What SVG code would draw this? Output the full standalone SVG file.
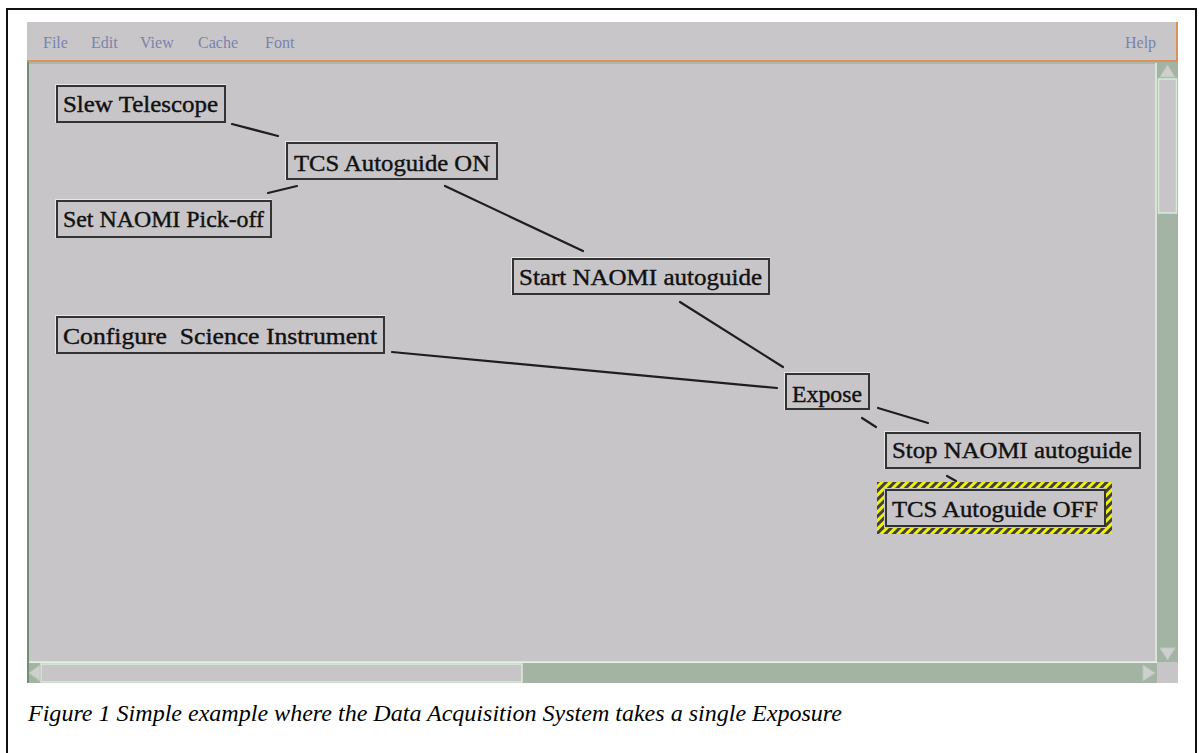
<svg xmlns="http://www.w3.org/2000/svg" width="1199" height="753" viewBox="0 0 1199 753">
<style>
.frame{stroke:#111;stroke-width:2;fill:none}
.menu{font-family:"Liberation Serif",serif;font-size:16px;fill:#7884aa}
.box{fill:#c8c5c9;stroke:#333;stroke-width:2}
.hi{fill:none;stroke:#f2f2f2;stroke-width:1.5}
.lbl{font-family:"Liberation Serif",serif;font-size:23px;fill:#111;stroke:#111;stroke-width:0.4;white-space:pre}
.conn line{stroke:#1e1e1e;stroke-width:2.2;stroke-linecap:round}
.cap{font-family:"Liberation Serif",serif;font-style:italic;font-size:24px;fill:#000}
.sb{fill:#a4b4a4}
.th{fill:#c8c5c9;stroke:#d8ecd8;stroke-width:1.5}
.arr{fill:#cfcfcf;stroke:#b8c8b8;stroke-width:1}
</style>
<defs>
<pattern id="hatch" patternUnits="userSpaceOnUse" width="6" height="6" patternTransform="rotate(45)">
<rect x="0" y="0" width="6" height="6" fill="#f2f200"/>
<rect x="0" y="0" width="3" height="6" fill="#404040"/>
</pattern>
</defs>
<rect x="0" y="0" width="1199" height="753" fill="#ffffff"/>
<!-- outer frame -->
<polyline class="frame" points="7,753 7,9 1196,9 1196,753"/>
<!-- menu bar -->
<rect x="27" y="22" width="1150" height="40" fill="#c9c6ca"/>
<text class="menu" x="43" y="48">File</text>
<text class="menu" x="91" y="48">Edit</text>
<text class="menu" x="140" y="48">View</text>
<text class="menu" x="198" y="48">Cache</text>
<text class="menu" x="265" y="48">Font</text>
<text class="menu" x="1125" y="48">Help</text>
<polyline points="27,61 1177,61 1177,22" fill="none" stroke="#d9925a" stroke-width="2"/>
<!-- canvas -->
<rect x="27" y="62" width="1130" height="600" fill="#c8c5c9"/>
<line x1="28" y1="62" x2="28" y2="683" stroke="#6f8f70" stroke-width="2"/>
<line x1="29" y1="63" x2="1156" y2="63" stroke="#8fa890" stroke-width="1"/>
<line x1="1156" y1="63" x2="1156" y2="662" stroke="#dcefdc" stroke-width="1.5"/>
<line x1="29" y1="662" x2="1156" y2="662" stroke="#dcefdc" stroke-width="1.5"/>
<!-- vertical scrollbar -->
<rect class="sb" x="1157" y="62" width="21" height="600"/>
<rect class="th" x="1158.5" y="79" width="18" height="134"/>
<polygon class="arr" points="1160,77 1175,77 1167.5,65"/>
<polygon class="arr" points="1160,648 1175,648 1167.5,660"/>
<!-- horizontal scrollbar -->
<rect class="sb" x="29" y="663" width="1128" height="20"/>
<rect class="th" x="41" y="664" width="481" height="18"/>
<polygon class="arr" points="40,665 40,681 29,673"/>
<polygon class="arr" points="1143,665 1143,681 1155,673"/>
<rect x="1157" y="662" width="21" height="21" fill="#c8c5c9"/>
<!-- connectors -->
<g id="connectors" class="conn">
<line x1="232" y1="124" x2="278" y2="136"/>
<line x1="268" y1="193" x2="297" y2="186"/>
<line x1="445" y1="186" x2="583" y2="251"/>
<line x1="680" y1="302" x2="783" y2="367"/>
<line x1="392" y1="352" x2="777" y2="388"/>
<line x1="878" y1="408" x2="928" y2="423"/>
<line x1="862" y1="418" x2="876" y2="427"/>
<line x1="947" y1="476" x2="956" y2="481"/>
</g>
<!-- nodes -->
<g id="node-slew">
<polyline class="hi" points="56,123 56,85 226,85"/>
<rect class="box" x="57" y="86" width="168" height="36"/>
<text class="lbl" x="63" y="112" textLength="155" lengthAdjust="spacingAndGlyphs">Slew Telescope</text>
</g>
<g id="node-tcs-on">
<polyline class="hi" points="286,180 286,142 498,142"/>
<rect class="box" x="287" y="143" width="210" height="36"/>
<text class="lbl" x="294" y="171" textLength="196" lengthAdjust="spacingAndGlyphs">TCS Autoguide ON</text>
</g>
<g id="node-pickoff">
<polyline class="hi" points="56,238 56,200 272,200"/>
<rect class="box" x="57" y="201" width="214" height="36"/>
<text class="lbl" x="63" y="227" textLength="201" lengthAdjust="spacingAndGlyphs">Set NAOMI Pick-off</text>
</g>
<g id="node-start">
<polyline class="hi" points="512,295 512,258 770,258"/>
<rect class="box" x="513" y="259" width="256" height="35"/>
<text class="lbl" x="519" y="285" textLength="243" lengthAdjust="spacingAndGlyphs">Start NAOMI autoguide</text>
</g>
<g id="node-config">
<polyline class="hi" points="56,354 56,316 385,316"/>
<rect class="box" x="57" y="317" width="327" height="36"/>
<text class="lbl" x="63" y="344" textLength="314" lengthAdjust="spacingAndGlyphs">Configure  Science Instrument</text>
</g>
<g id="node-expose">
<polyline class="hi" points="785,410 785,373 870,373"/>
<rect class="box" x="786" y="374" width="83" height="35"/>
<text class="lbl" x="792" y="402" textLength="70" lengthAdjust="spacingAndGlyphs">Expose</text>
</g>
<g id="node-stop">
<polyline class="hi" points="885,469 885,432 1141,432"/>
<rect class="box" x="886" y="433" width="254" height="35"/>
<text class="lbl" x="892" y="458" textLength="240" lengthAdjust="spacingAndGlyphs">Stop NAOMI autoguide</text>
</g>
<g id="node-tcs-off">
<rect x="877" y="482" width="235" height="52" fill="url(#hatch)"/>
<rect x="884" y="488" width="222" height="40" fill="#c8c5c9"/>
<rect class="box" x="886" y="490" width="219" height="36"/>
<text class="lbl" x="892" y="517" textLength="206" lengthAdjust="spacingAndGlyphs">TCS Autoguide OFF</text>
</g>
<!-- caption -->
<text class="cap" x="28" y="721" textLength="814" lengthAdjust="spacingAndGlyphs">Figure 1 Simple example where the Data Acquisition System takes a single Exposure</text>
</svg>
